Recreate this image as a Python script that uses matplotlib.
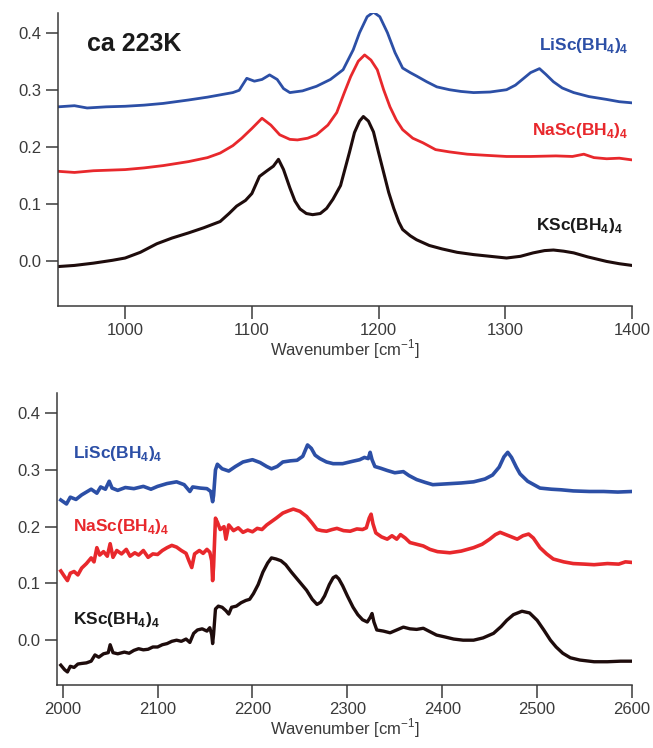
import matplotlib
matplotlib.use("Agg")
import matplotlib.pyplot as plt

plt.rcParams['font.family'] = ['Liberation Sans', 'DejaVu Sans']
plt.rcParams['mathtext.fontset'] = 'custom'
plt.rcParams['mathtext.rm'] = 'Liberation Sans'
plt.rcParams['mathtext.bf'] = 'Liberation Sans:bold'

## Top panel, 950-1400 cm-1
li_top_x = [947, 960, 970, 985, 1000, 1015, 1030, 1050, 1065, 1075, 1085, 1090, 1096, 1102,
            1108, 1114, 1120, 1125, 1130, 1140, 1151, 1162, 1172, 1180, 1185, 1191, 1196,
            1201, 1207, 1213, 1219, 1225, 1230, 1238, 1246, 1256, 1265, 1275, 1288, 1301,
            1308, 1314, 1320, 1327, 1332, 1338, 1345, 1354, 1366, 1380, 1390, 1400]
li_top_y = [0.270, 0.272, 0.268, 0.270, 0.271, 0.273, 0.276, 0.282, 0.287, 0.291, 0.295, 0.299,
            0.320, 0.315, 0.318, 0.326, 0.318, 0.302, 0.295, 0.298, 0.306, 0.318, 0.335, 0.370,
            0.400, 0.428, 0.436, 0.428, 0.400, 0.365, 0.338, 0.330, 0.324, 0.314, 0.305, 0.300,
            0.297, 0.295, 0.296, 0.300, 0.308, 0.319, 0.330, 0.337, 0.327, 0.314, 0.303, 0.295,
            0.288, 0.283, 0.279, 0.277]

na_top_x = [947, 960, 975, 1000, 1015, 1030, 1050, 1065, 1075, 1085, 1092, 1100, 1108, 1115,
            1122, 1130, 1136, 1144, 1151, 1160, 1167, 1173, 1178, 1184, 1189, 1194, 1199, 1204,
            1209, 1214, 1219, 1227, 1235, 1245, 1256, 1270, 1285, 1301, 1320, 1340, 1353, 1362,
            1370, 1380, 1390, 1400]
na_top_y = [0.157, 0.155, 0.158, 0.160, 0.163, 0.167, 0.174, 0.181, 0.189, 0.202, 0.215, 0.232,
            0.250, 0.238, 0.221, 0.213, 0.212, 0.215, 0.221, 0.238, 0.260, 0.295, 0.323, 0.350,
            0.361, 0.352, 0.335, 0.300, 0.270, 0.247, 0.230, 0.215, 0.207, 0.195, 0.191, 0.187,
            0.185, 0.183, 0.183, 0.184, 0.183, 0.187, 0.181, 0.179, 0.180, 0.177]

k_top_x = [947, 960, 975, 990, 1000, 1012, 1025, 1037, 1050, 1062, 1075, 1082, 1088, 1095,
           1100, 1106, 1112, 1117, 1121, 1125, 1130, 1134, 1138, 1143, 1148, 1154, 1159, 1164,
           1170, 1177, 1181, 1185, 1188, 1192, 1196, 1200, 1204, 1208, 1212, 1216, 1219, 1225,
           1230, 1240, 1250, 1262, 1275, 1288, 1301, 1312, 1322, 1331, 1338, 1346, 1354, 1365,
           1380, 1390, 1400]
k_top_y = [-0.010, -0.008, -0.004, 0.001, 0.005, 0.015, 0.030, 0.040, 0.049, 0.058, 0.069, 0.083,
           0.096, 0.106, 0.118, 0.148, 0.158, 0.166, 0.178, 0.160, 0.128, 0.105, 0.091, 0.083,
           0.081, 0.083, 0.092, 0.108, 0.132, 0.190, 0.225, 0.245, 0.253, 0.245, 0.226, 0.190,
           0.155, 0.120, 0.092, 0.068, 0.055, 0.044, 0.037, 0.027, 0.021, 0.015, 0.011, 0.008,
           0.005, 0.008, 0.014, 0.018, 0.019, 0.017, 0.014, 0.007, -0.001, -0.005, -0.008]

## Bottom panel, 2000-2600 cm-1
li_bot_x = [1998, 2004, 2008, 2014, 2020, 2026, 2030, 2036, 2040, 2045, 2049, 2052, 2058, 2066,
            2075, 2085, 2093, 2100, 2110, 2120, 2128, 2134, 2137, 2145, 2152, 2156, 2158, 2159,
            2161, 2163, 2168, 2175, 2182, 2190, 2200, 2208, 2215, 2220, 2226, 2232, 2240, 2247,
            2253, 2258, 2262, 2266, 2271, 2278, 2285, 2295, 2305, 2313, 2318, 2322, 2324, 2326,
            2329, 2335, 2342, 2350, 2359, 2365, 2373, 2382, 2390, 2400, 2410, 2420, 2433, 2445,
            2453, 2460, 2465, 2469, 2473, 2478, 2482, 2490, 2503, 2515, 2525, 2538, 2555, 2570,
            2585, 2600]
li_bot_y = [0.247, 0.240, 0.252, 0.248, 0.256, 0.262, 0.266, 0.259, 0.270, 0.266, 0.280, 0.268,
            0.264, 0.269, 0.267, 0.271, 0.266, 0.271, 0.276, 0.279, 0.274, 0.262, 0.270, 0.268,
            0.267, 0.262, 0.244, 0.255, 0.300, 0.310, 0.302, 0.298, 0.306, 0.314, 0.318, 0.313,
            0.306, 0.302, 0.306, 0.314, 0.316, 0.317, 0.324, 0.344, 0.338, 0.326, 0.320, 0.314,
            0.311, 0.311, 0.315, 0.318, 0.322, 0.320, 0.331, 0.318, 0.306, 0.303, 0.299, 0.295,
            0.297, 0.290, 0.283, 0.278, 0.274, 0.275, 0.276, 0.277, 0.279, 0.284, 0.291, 0.305,
            0.323, 0.331, 0.322, 0.305, 0.293, 0.280, 0.268, 0.266, 0.265, 0.263, 0.262, 0.262,
            0.261, 0.262]

na_bot_x = [1998, 2002, 2005, 2008, 2012, 2016, 2020, 2025, 2030, 2033, 2036, 2039, 2043, 2047,
            2050, 2053, 2057, 2062, 2067, 2071, 2076, 2080, 2085, 2090, 2095, 2100, 2105, 2110,
            2115, 2120, 2125, 2130, 2133, 2136, 2139, 2144, 2148, 2152, 2155, 2157, 2158, 2159,
            2161, 2163, 2166, 2170, 2172, 2175, 2180, 2185, 2190, 2195, 2200, 2205, 2210, 2215,
            2220, 2225, 2232, 2238, 2243, 2250, 2257, 2263, 2268, 2273, 2278, 2284, 2289, 2296,
            2303, 2310, 2316, 2320, 2323, 2325, 2327, 2330, 2336, 2342, 2347, 2352, 2356, 2361,
            2366, 2373, 2380, 2387, 2395, 2408, 2420, 2433, 2442, 2450, 2456, 2461, 2467, 2473,
            2479, 2485, 2491, 2496, 2503, 2510, 2517, 2528, 2538, 2550, 2560, 2574, 2586, 2593,
            2600]
na_bot_y = [0.122, 0.112, 0.105, 0.118, 0.121, 0.115, 0.127, 0.135, 0.145, 0.138, 0.163, 0.150,
            0.156, 0.148, 0.170, 0.146, 0.158, 0.152, 0.160, 0.148, 0.154, 0.150, 0.158, 0.146,
            0.152, 0.151, 0.158, 0.163, 0.167, 0.164, 0.158, 0.153, 0.140, 0.128, 0.152, 0.158,
            0.153, 0.160, 0.155, 0.140, 0.105, 0.130, 0.215, 0.208, 0.195, 0.200, 0.178, 0.203,
            0.193, 0.198, 0.190, 0.194, 0.191, 0.197, 0.195, 0.203, 0.209, 0.215, 0.224, 0.228,
            0.231, 0.227, 0.218, 0.206, 0.195, 0.193, 0.192, 0.195, 0.197, 0.193, 0.192, 0.196,
            0.195, 0.198, 0.215, 0.222, 0.205, 0.189, 0.182, 0.178, 0.184, 0.178, 0.186, 0.180,
            0.172, 0.169, 0.166, 0.160, 0.156, 0.154, 0.157, 0.163, 0.169, 0.178, 0.186, 0.190,
            0.186, 0.182, 0.178, 0.184, 0.187, 0.180, 0.163, 0.152, 0.143, 0.138, 0.135, 0.134,
            0.133, 0.135, 0.134, 0.138, 0.137]

k_bot_x = [1998, 2002, 2005, 2008, 2012, 2016, 2020, 2025, 2030, 2034, 2038, 2043, 2048, 2050,
           2053, 2058, 2065, 2070, 2075, 2080, 2085, 2090, 2095, 2100, 2105, 2110, 2115, 2120,
           2125, 2130, 2134, 2138, 2142, 2147, 2152, 2155, 2157, 2158, 2159, 2161, 2164, 2168,
           2172, 2175, 2178, 2183, 2188, 2193, 2197, 2201, 2206, 2211, 2216, 2220, 2225, 2230,
           2235, 2241, 2247, 2252, 2257, 2263, 2268, 2272, 2276, 2281, 2285, 2288, 2291, 2295,
           2300, 2306, 2311, 2316, 2321, 2324, 2326, 2328, 2331, 2338, 2345, 2352, 2359, 2366,
           2373, 2380, 2387, 2394, 2402, 2412, 2422, 2433, 2443, 2454, 2462, 2468, 2475, 2484,
           2492, 2500, 2507, 2514, 2520, 2527, 2535, 2545, 2560, 2574, 2588, 2600]
k_bot_y = [-0.044, -0.052, -0.056, -0.046, -0.048, -0.042, -0.041, -0.040, -0.037, -0.026, -0.030,
           -0.024, -0.022, -0.008, -0.022, -0.024, -0.021, -0.023, -0.018, -0.015, -0.017, -0.016,
           -0.012, -0.012, -0.008, -0.006, -0.002, 0.000, -0.002, 0.002, -0.004, 0.012, 0.018,
           0.020, 0.016, 0.022, 0.010, -0.006, 0.010, 0.055, 0.060, 0.058, 0.052, 0.046, 0.058,
           0.060, 0.066, 0.070, 0.072, 0.082, 0.098, 0.120, 0.136, 0.145, 0.143, 0.140, 0.133,
           0.120, 0.108, 0.098, 0.088, 0.072, 0.063, 0.067, 0.078, 0.098, 0.110, 0.113, 0.108,
           0.096, 0.078, 0.058, 0.045, 0.036, 0.032, 0.040, 0.047, 0.032, 0.018, 0.016, 0.013,
           0.018, 0.023, 0.020, 0.019, 0.021, 0.015, 0.009, 0.006, 0.002, 0.000, 0.000, 0.004,
           0.012, 0.024, 0.035, 0.045, 0.051, 0.048, 0.035, 0.018, 0.000, -0.012, -0.023, -0.031,
           -0.035, -0.038, -0.038, -0.037, -0.037]

blue = '#2c4fa6'
red = '#e8282c'
black = '#1e0c0c'
grey = '#3a3a3a'
lbl = 12.5  # series label size


def style_axis(ax, xlim, xticks):
    '''set limits, ticks and spines like the original Igor-style plot'''
    ax.set_xlim(*xlim)
    ax.set_ylim(-0.079, 0.435)
    ax.set_xticks(xticks)
    ax.set_yticks([0.0, 0.1, 0.2, 0.3, 0.4])
    ax.set_yticklabels(['0.0', '0.1', '0.2', '0.3', '0.4'])
    for s in ['top', 'right']:
        ax.spines[s].set_visible(False)
    for s in ['left', 'bottom']:
        ax.spines[s].set_color(grey)
        ax.spines[s].set_linewidth(1.1)
    ax.tick_params(direction='out', length=9, width=1.1, color=grey,
                   labelsize=12, labelcolor=grey, pad=3)
    ax.set_xlabel('Wavenumber [cm$^{-1}$]', fontsize=12, color=grey, labelpad=0)


fig = plt.figure(figsize=(6.53, 7.48), dpi=100)

# top panel
ax1 = fig.add_axes([0.0888, 0.591, 0.879, 0.392])
ax1.plot(li_top_x, li_top_y, color=blue, lw=2.0)
ax1.plot(na_top_x, na_top_y, color=red, lw=2.0)
ax1.plot(k_top_x, k_top_y, color=black, lw=2.2)
style_axis(ax1, (947, 1400), [1000, 1100, 1200, 1300, 1400])
ax1.text(970, 0.381, 'ca 223K', fontsize=18, fontweight='bold', color='#1a1a1a',
         va='center', ha='left')
ax1.text(1397, 0.370, r'LiSc(BH$_\mathbf{4}$)$_\mathbf{4}$', color=blue, fontsize=lbl,
         fontweight='bold', ha='right', va='baseline')
ax1.text(1397, 0.221, r'NaSc(BH$_\mathbf{4}$)$_\mathbf{4}$', color=red, fontsize=lbl,
         fontweight='bold', ha='right', va='baseline')
ax1.text(1393, 0.054, r'KSc(BH$_\mathbf{4}$)$_\mathbf{4}$', color='#1a1a1a', fontsize=lbl,
         fontweight='bold', ha='right', va='baseline')

# bottom panel
ax2 = fig.add_axes([0.0873, 0.0842, 0.8806, 0.390])
ax2.plot(li_bot_x, li_bot_y, color=blue, lw=2.6)
ax2.plot(na_bot_x, na_bot_y, color=red, lw=2.6)
ax2.plot(k_bot_x, k_bot_y, color=black, lw=2.4)
style_axis(ax2, (1994, 2600), [2000, 2100, 2200, 2300, 2400, 2500, 2600])
ax2.text(2010.5, 0.321, r'LiSc(BH$_\mathbf{4}$)$_\mathbf{4}$', color=blue, fontsize=lbl,
         fontweight='bold', ha='left', va='baseline')
ax2.text(2010.5, 0.192, r'NaSc(BH$_\mathbf{4}$)$_\mathbf{4}$', color=red, fontsize=lbl,
         fontweight='bold', ha='left', va='baseline')
ax2.text(2010.5, 0.028, r'KSc(BH$_\mathbf{4}$)$_\mathbf{4}$', color='#1a1a1a', fontsize=lbl,
         fontweight='bold', ha='left', va='baseline')

fig.savefig('out.png', dpi=100)
